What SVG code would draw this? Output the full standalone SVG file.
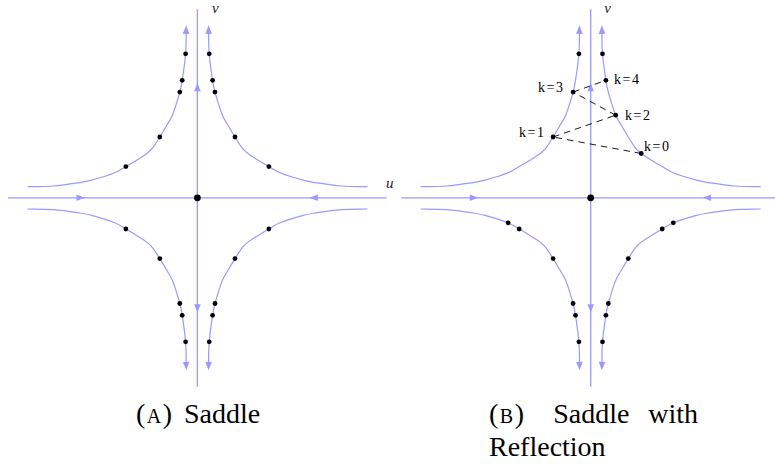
<svg xmlns="http://www.w3.org/2000/svg" width="775" height="464" viewBox="0 0 775 464">
<style>
.ax{stroke:#9999ff;stroke-width:1.3;fill:none}
.cv{stroke:#9999ff;stroke-width:1.2;fill:none}
.ah{fill:#9999ff}
.dot{fill:#000}
.dash{stroke:#000;stroke-width:0.9;stroke-dasharray:6.5 5;fill:none}
.lbl{font-family:"Liberation Serif","Times New Roman",serif;font-size:14px;fill:#000}
.var{font-family:"Liberation Serif","Times New Roman",serif;font-style:italic;font-size:15px;fill:#222}
.cap{font-family:"Liberation Serif","Times New Roman",serif;font-size:28px;fill:#000}
.sc{font-size:20px}
</style>
<defs>
<path id="ah" class="ah" d="M0,0 C-2.6,-0.9 -5.6,-2.1 -8.5,-3.3 L-8.5,3.3 C-5.6,2.1 -2.6,0.9 0,0Z"/>
<path id="hyp" class="cv" d="M11.2,-168 C11.3,-160 11.1,-153.31 11.8,-144 C12.47,-135.12 13.87,-126.31 15.2,-117.5 C15.8,-113.53 16.52,-109.56 17.6,-105.7 C19.79,-97.91 22.01,-90.12 25,-82.6 C26.57,-78.66 29.08,-75.17 31.2,-71.5 C33.28,-67.9 35.4,-64.33 37.6,-60.8 C39.77,-57.32 41.78,-53.73 44.3,-50.5 C46.1,-48.2 48.2,-46.1 50.5,-44.3 C53.73,-41.78 57.32,-39.77 60.8,-37.6 C64.33,-35.4 67.9,-33.28 71.5,-31.2 C75.17,-29.08 78.66,-26.57 82.6,-25 C90.12,-22.01 97.91,-19.79 105.7,-17.6 C109.56,-16.52 113.53,-15.8 117.5,-15.2 C126.31,-13.87 135.12,-12.47 144,-11.8 C153.31,-11.1 161.3,-11.3 170,-11.2"/>
<g id="branch"><use href="#hyp"/><use href="#ah" transform="translate(11.1,-172.5) rotate(-91.4)"/></g>
<g id="axes">
<line class="ax" x1="-189.3" y1="0" x2="189.3" y2="0"/>
<line class="ax" x1="0" y1="-188.5" x2="0" y2="189"/>
<use href="#ah" transform="translate(-112.4,0)"/>
<use href="#ah" transform="translate(111.9,0) rotate(180)"/>
<use href="#ah" transform="translate(0,-115) rotate(-90)"/>
<use href="#ah" transform="translate(0,115) rotate(90)"/>
</g>
<g id="qdots">
<circle class="dot" cx="11.8" cy="-144" r="2.4"/>
<circle class="dot" cx="15.2" cy="-117.5" r="2.4"/>
<circle class="dot" cx="17.6" cy="-105.7" r="2.4"/>
<circle class="dot" cx="37.6" cy="-60.8" r="2.4"/>
<circle class="dot" cx="71.5" cy="-31.2" r="2.4"/>
</g>
<g id="ldots">
<circle class="dot" cx="82.6" cy="25" r="2.4"/>
<circle class="dot" cx="71.5" cy="31.2" r="2.4"/>
<circle class="dot" cx="37.6" cy="60.8" r="2.4"/>
<circle class="dot" cx="17.6" cy="105.7" r="2.4"/>
<circle class="dot" cx="15.2" cy="117.5" r="2.4"/>
<circle class="dot" cx="11.8" cy="144" r="2.4"/>
</g>
</defs>

<g id="panel-a" transform="translate(197.4,197.8)">
<use href="#axes"/>
<g id="trajectories-a">
<use href="#branch"/>
<use href="#branch" transform="scale(-1,1)"/>
<use href="#branch" transform="scale(1,-1)"/>
<use href="#branch" transform="scale(-1,-1)"/>
</g>
<g id="points-a">
<use href="#qdots"/>
<use href="#qdots" transform="scale(-1,1)"/>
<use href="#qdots" transform="scale(1,-1)"/>
<use href="#qdots" transform="scale(-1,-1)"/>
</g>
<circle id="origin-a" class="dot" cx="0" cy="0" r="3.4"/>
</g>
<text class="var" x="212" y="12.7">v</text>
<text class="var" x="386" y="187.5">u</text>

<g id="panel-b" transform="translate(590.7,197.8)">
<use href="#axes"/>
<g id="trajectories-b">
<use href="#branch"/>
<use href="#branch" transform="scale(-1,1)"/>
<use href="#branch" transform="scale(1,-1)"/>
<use href="#branch" transform="scale(-1,-1)"/>
</g>
<g id="points-b">
<circle class="dot" cx="11.8" cy="-144" r="2.4"/>
<circle class="dot" cx="-11.8" cy="-144" r="2.4"/>
<use href="#ldots"/>
<use href="#ldots" transform="scale(-1,1)"/>
</g>
</g>
<text class="var" x="604.3" y="13">v</text>

<g id="connectors">
<line class="dash" x1="641.2" y1="153.5" x2="553.1" y2="137"/>
<line class="dash" x1="553.1" y1="137" x2="615.7" y2="115.2"/>
<line class="dash" x1="615.7" y1="115.2" x2="573.1" y2="92.1"/>
<line class="dash" x1="573.1" y1="92.1" x2="605.9" y2="80.3"/>
</g>

<g id="k0"><circle class="dot" cx="641.2" cy="153.5" r="2.4"/><text class="lbl" x="644" y="151" textLength="25" lengthAdjust="spacing">k=0</text></g>
<g id="k1"><circle class="dot" cx="553.1" cy="137" r="2.4"/><text class="lbl" x="519" y="136.5" textLength="25" lengthAdjust="spacing">k=1</text></g>
<g id="k2"><circle class="dot" cx="615.7" cy="115.2" r="2.4"/><text class="lbl" x="625" y="120" textLength="25" lengthAdjust="spacing">k=2</text></g>
<g id="k3"><circle class="dot" cx="573.1" cy="92.1" r="2.4"/><text class="lbl" x="538" y="91.5" textLength="25" lengthAdjust="spacing">k=3</text></g>
<g id="k4"><circle class="dot" cx="605.9" cy="80.3" r="2.4"/><text class="lbl" x="614" y="84" textLength="25" lengthAdjust="spacing">k=4</text></g>
<circle id="origin-b" class="dot" cx="590.7" cy="197.8" r="3.4"/>

<g id="captions">
<text class="cap" x="136" y="423">(<tspan class="sc" dx="1.5">A</tspan><tspan dx="1.5">)</tspan><tspan x="184">Saddle</tspan></text>
<text class="cap" x="489" y="423">(<tspan class="sc" dx="1.5">B</tspan><tspan dx="1.5">)</tspan><tspan x="553.3">Saddle</tspan><tspan x="648.3">with</tspan></text>
<text class="cap" x="489" y="456">Reflection</text>
</g>
</svg>
